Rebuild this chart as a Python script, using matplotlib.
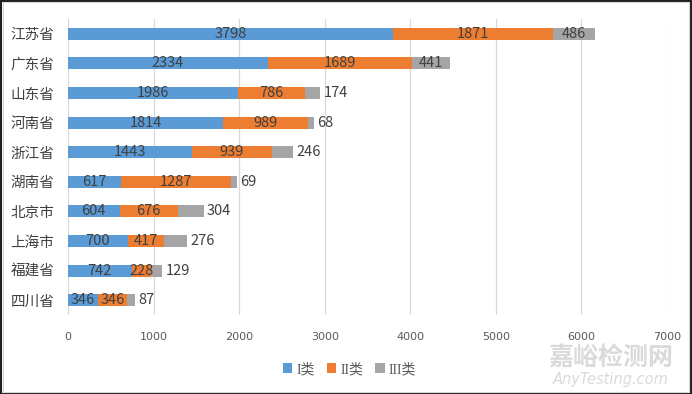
import numpy as np
import matplotlib.pyplot as plt
from matplotlib.patches import Rectangle

plt.rcParams['font.family'] = ['Noto Sans CJK SC', 'DejaVu Sans']

# Daten
provinces = ['江苏省', '广东省', '山东省', '河南省', '浙江省',
             '湖南省', '北京市', '上海市', '福建省', '四川省']
class_1 = [3798, 2334, 1986, 1814, 1443, 617, 604, 700, 742, 346]
class_2 = [1871, 1689, 786, 989, 939, 1287, 676, 417, 228, 346]
class_3 = [486, 441, 174, 68, 246, 69, 304, 276, 129, 87]
series_names = ['I类', 'II类', 'III类']
colors = ['#5B9BD5', '#ED7D31', '#A5A5A5']

fig = plt.figure(figsize=(6.92, 3.94), dpi=100)
ax = fig.add_axes([0.0983, 0.2005, 0.8656, 0.7513])

y = np.arange(len(provinces))
left = np.zeros(len(provinces))
text_col = '#404040'
for vals, name, col in zip([class_1, class_2, class_3], series_names, colors):
    vals = np.array(vals)
    ax.barh(y, vals, left=left, height=0.41, color=col, label=name, zorder=2)
    for i, v in enumerate(vals):
        if name == 'III类' and v < 400:
            # zu schmal -> Beschriftung rechts neben dem Balken
            ax.text(left[i] + v + 40, y[i], str(v), ha='left', va='center',
                    fontsize=10.5, color=text_col, zorder=3)
        else:
            ax.text(left[i] + v / 2, y[i], str(v), ha='center', va='center',
                    fontsize=10.5, color=text_col, zorder=3)
    left = left + vals

ax.set_xlim(0, 7000)
ax.set_ylim(len(provinces) - 0.5, -0.5)
ax.set_xticks(np.arange(0, 7001, 1000))
ax.set_yticks(y)
ax.set_yticklabels(provinces, fontsize=10.5, color=text_col)
ax.tick_params(axis='x', length=0, pad=12, labelsize=8, labelcolor='#595959')
ax.tick_params(axis='y', length=0, pad=10)
for lab in ax.get_xticklabels():
    lab.set_family('DejaVu Sans')
ax.grid(axis='x', color='#D9D9D9', linewidth=0.9, zorder=0)
for s in ax.spines.values():
    s.set_visible(False)

leg = fig.legend(loc='center', bbox_to_anchor=(0.505, 0.063), ncol=3, frameon=False,
                 fontsize=10, handlelength=0.65, handleheight=0.65, handletextpad=0.3,
                 columnspacing=0.9, labelcolor='#595959')
for t in leg.get_texts():
    t.set_family(['Liberation Serif', 'Noto Sans CJK SC'])

# Wasserzeichen
fig.text(0.882, 0.092, '嘉峪检测网', ha='center', va='center', fontsize=18,
         color='#DADADA', fontweight='bold')
fig.text(0.882, 0.036, 'AnyTesting.com', ha='center', va='center', fontsize=10.5,
         color='#DADADA', style='italic', family='DejaVu Sans')

# Rahmen
fig.patches.append(Rectangle((0.001, 0.001), 0.997, 0.997, transform=fig.transFigure,
                             fill=False, edgecolor='#202020', linewidth=1.5))
fig.patches.append(Rectangle((0.004, 0.006), 0.991, 0.988, transform=fig.transFigure,
                             fill=False, edgecolor='#D9D9D9', linewidth=0.8))

fig.savefig('out.png', dpi=100)
